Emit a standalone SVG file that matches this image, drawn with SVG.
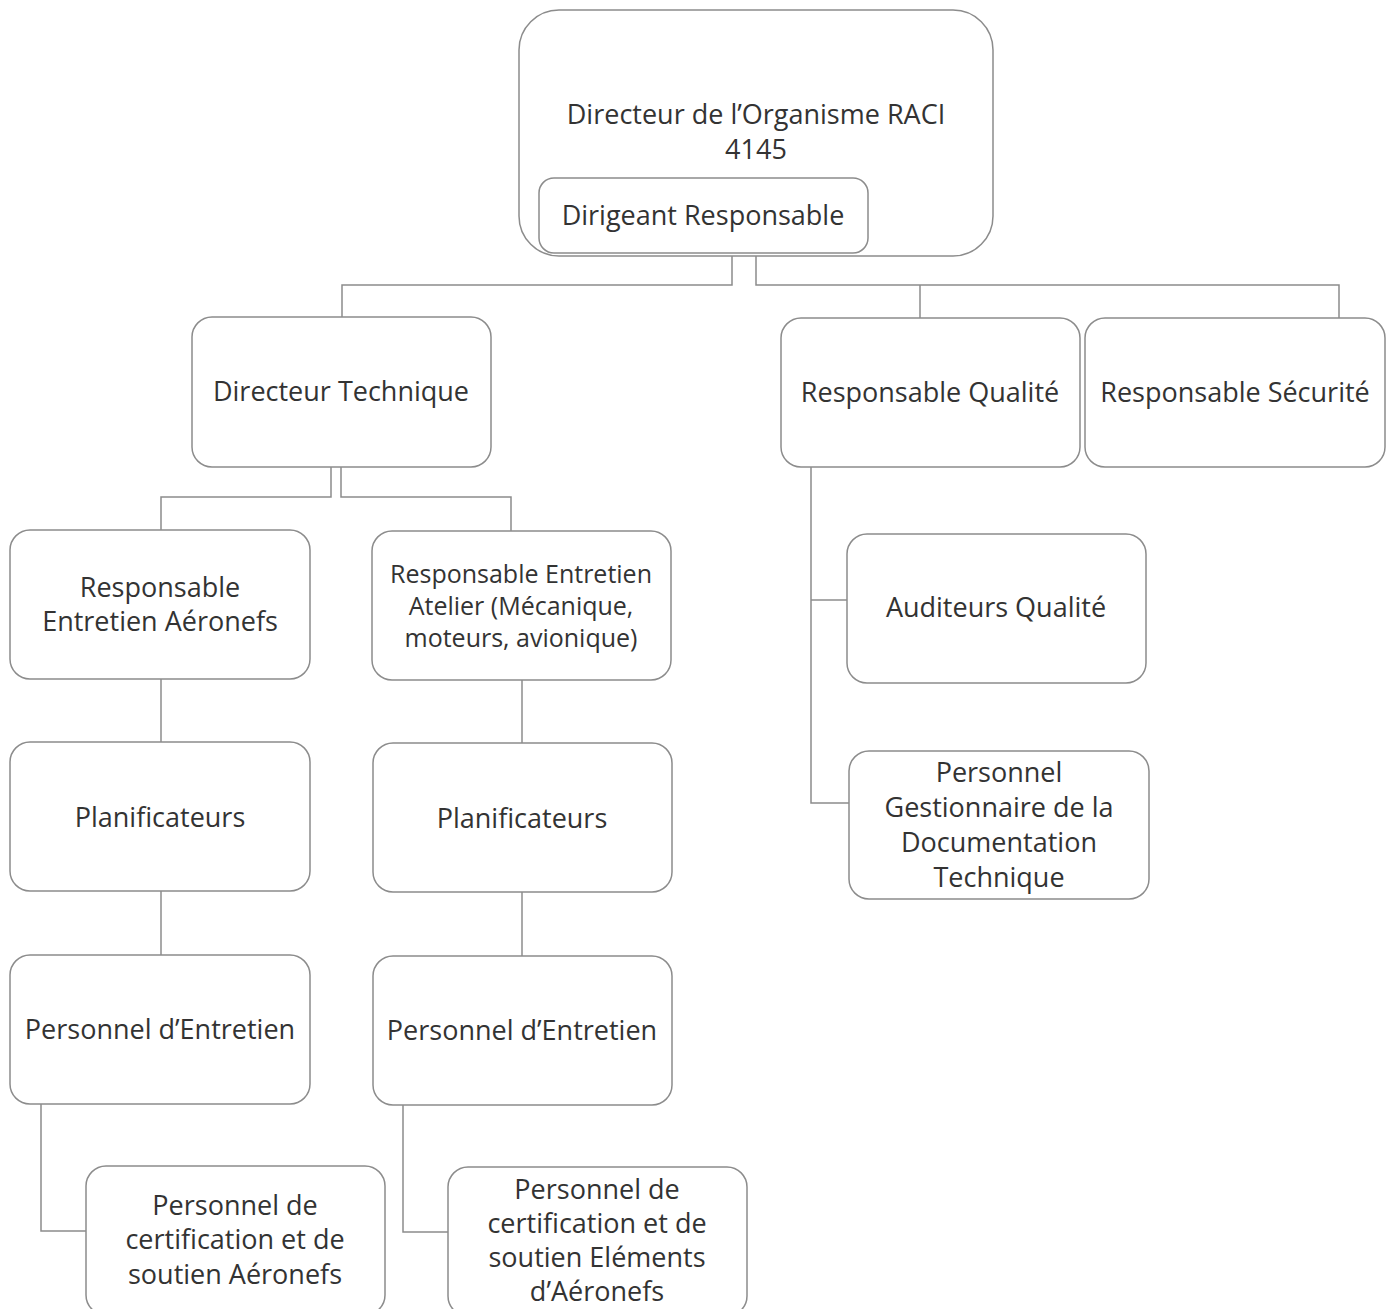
<svg xmlns="http://www.w3.org/2000/svg" width="1392" height="1309" viewBox="0 0 1392 1309">
<style>
.box{fill:#ffffff;stroke:#8c8c8c;stroke-width:1.5}
.t{font-family:"Open Sans","Noto Sans",sans-serif;font-size:27px;fill:#333333;text-anchor:middle}
.s{font-size:25px}
.c{fill:none;stroke:#8c8c8c;stroke-width:1.5}
</style>
<rect width="1392" height="1309" fill="#ffffff"/>
<g id="connectors">
<path class="c" d="M732,256V285H342V317"/>
<path class="c" d="M756,256V285H1339V318"/>
<path class="c" d="M920,285V318"/>
<path class="c" d="M331,467V497H161V530"/>
<path class="c" d="M341,467V497H511V531"/>
<path class="c" d="M161,679V742"/>
<path class="c" d="M522,680V743"/>
<path class="c" d="M161,891V955"/>
<path class="c" d="M522,892V956"/>
<path class="c" d="M41,1104V1231H86"/>
<path class="c" d="M403,1105V1232H448"/>
<path class="c" d="M811,467V803H849"/>
<path class="c" d="M811,600H847"/>
</g>
<g id="n-directeur">
<rect class="box" x="519" y="10" width="474" height="246" rx="40"/>
<text class="t" x="756" y="124">Directeur de l’Organisme RACI</text>
<text class="t" x="756" y="159">4145</text>
</g>
<g id="n-dirigeant">
<rect class="box" x="539" y="178" width="329" height="75" rx="15"/>
<text class="t" x="703" y="225">Dirigeant Responsable</text>
</g>
<g id="n-dt">
<rect class="box" x="192" y="317" width="299" height="150" rx="20"/>
<text class="t" x="341" y="401">Directeur Technique</text>
</g>
<g id="n-rq">
<rect class="box" x="781" y="318" width="299" height="149" rx="20"/>
<text class="t" x="930" y="402">Responsable Qualité</text>
</g>
<g id="n-rs">
<rect class="box" x="1085" y="318" width="300" height="149" rx="20"/>
<text class="t" x="1235" y="402">Responsable Sécurité</text>
</g>
<g id="n-rea">
<rect class="box" x="10" y="530" width="300" height="149" rx="20"/>
<text class="t" x="160" y="597">Responsable</text>
<text class="t" x="160" y="631">Entretien Aéronefs</text>
</g>
<g id="n-reat">
<rect class="box" x="372" y="531" width="299" height="149" rx="20"/>
<text class="t s" x="521" y="583">Responsable Entretien</text>
<text class="t s" x="521" y="615">Atelier (Mécanique,</text>
<text class="t s" x="521" y="647">moteurs, avionique)</text>
</g>
<g id="n-plan1">
<rect class="box" x="10" y="742" width="300" height="149" rx="20"/>
<text class="t" x="160" y="827">Planificateurs</text>
</g>
<g id="n-plan2">
<rect class="box" x="373" y="743" width="299" height="149" rx="20"/>
<text class="t" x="522" y="828">Planificateurs</text>
</g>
<g id="n-pe1">
<rect class="box" x="10" y="955" width="300" height="149" rx="20"/>
<text class="t" x="160" y="1039">Personnel d’Entretien</text>
</g>
<g id="n-pe2">
<rect class="box" x="373" y="956" width="299" height="149" rx="20"/>
<text class="t" x="522" y="1040">Personnel d’Entretien</text>
</g>
<g id="n-pc1">
<rect class="box" x="86" y="1166" width="299" height="149" rx="20"/>
<text class="t" x="235" y="1215">Personnel de</text>
<text class="t" x="235" y="1249">certification et de</text>
<text class="t" x="235" y="1284">soutien Aéronefs</text>
</g>
<g id="n-pc2">
<rect class="box" x="448" y="1167" width="299" height="149" rx="20"/>
<text class="t" x="597" y="1199">Personnel de</text>
<text class="t" x="597" y="1233">certification et de</text>
<text class="t" x="597" y="1267">soutien Eléments</text>
<text class="t" x="597" y="1301">d’Aéronefs</text>
</g>
<g id="n-aq">
<rect class="box" x="847" y="534" width="299" height="149" rx="20"/>
<text class="t" x="996" y="617">Auditeurs Qualité</text>
</g>
<g id="n-pg">
<rect class="box" x="849" y="751" width="300" height="148" rx="20"/>
<text class="t" x="999" y="782">Personnel</text>
<text class="t" x="999" y="817">Gestionnaire de la</text>
<text class="t" x="999" y="852">Documentation</text>
<text class="t" x="999" y="887">Technique</text>
</g>
</svg>
